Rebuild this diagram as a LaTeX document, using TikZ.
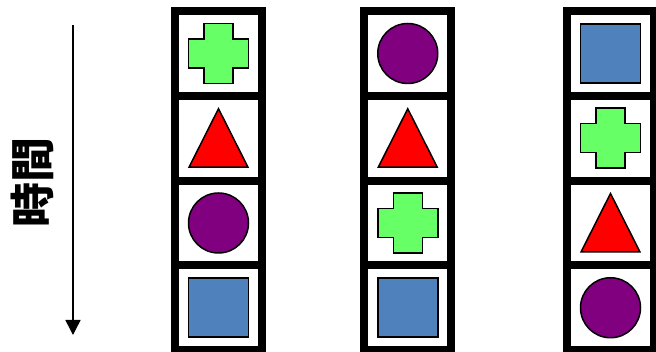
\documentclass[tikz,border=0pt]{standalone}
\usepackage{fontspec}
\newfontfamily\cjk{Noto Sans CJK JP}
\usetikzlibrary{arrows.meta}
\definecolor{crossgreen}{HTML}{66FF66}
\definecolor{trired}{HTML}{FF0000}
\definecolor{circpurple}{HTML}{800080}
\definecolor{sqblue}{HTML}{4F81BD}
\tikzset{
  cellbox/.style={draw=black, line width=8pt, fill=white, rectangle, inner sep=0pt,
    outer sep=0pt, minimum width=87pt, minimum height=84.75pt},
  shapeline/.style={draw=black, line width=1.5pt, line join=miter},
  crossshape/.pic={\path[shapeline, fill=crossgreen]
    (-14.5,30) -- (14.5,30) -- (14.5,14.5) -- (30,14.5) -- (30,-14.5) -- (14.5,-14.5)
    -- (14.5,-30) -- (-14.5,-30) -- (-14.5,-14.5) -- (-30,-14.5) -- (-30,14.5)
    -- (-14.5,14.5) -- cycle;},
  trishape/.pic={\path[shapeline, fill=trired]
    (0,-29.5) -- (29.5,29) -- (-29.5,29) -- cycle;},
  circshape/.pic={\path[shapeline, fill=circpurple] (0,0) circle (30);},
  sqshape/.pic={\path[shapeline, fill=sqblue] (-30,-29.5) rectangle (30,29.5);},
  timetext/.style={font=\cjk\bfseries\fontsize{45}{50}\selectfont, rotate=90, inner sep=0pt},
  timearrow/.style={line width=1.5pt, -{Triangle[width=15pt,length=15pt]}}
}
\begin{document}
\begin{tikzpicture}[x=1pt, y=-1pt]
\useasboundingbox (0,0) rectangle (656,352);
% column 1
\node[cellbox] (a1) at (218.5,53.5) {};
\node[cellbox] (a2) at (218.5,138.25) {};
\node[cellbox] (a3) at (218.5,223) {};
\node[cellbox] (a4) at (218.5,307.75) {};
% column 2
\node[cellbox] (b1) at (407.75,53.5) {};
\node[cellbox] (b2) at (407.75,138.25) {};
\node[cellbox] (b3) at (407.75,223) {};
\node[cellbox] (b4) at (407.75,307.75) {};
% column 3
\node[cellbox] (c1) at (610.5,53.5) {};
\node[cellbox] (c2) at (610.5,138.25) {};
\node[cellbox] (c3) at (610.5,223) {};
\node[cellbox] (c4) at (610.5,307.75) {};
% redraw borders on top so overlaps stay black
\foreach \n in {a1,a2,a3,a4,b1,b2,b3,b4,c1,c2,c3,c4}
  \draw[line width=8pt] (\n.south west) rectangle (\n.north east);
% shapes
\pic at (a1) {crossshape};
\pic at (a2) {trishape};
\pic at (a3) {circshape};
\pic at (a4) {sqshape};
\pic at (b1) {circshape};
\pic at (b2) {trishape};
\pic at (b3) {crossshape};
\pic at (b4) {sqshape};
\pic at (c1) {sqshape};
\pic at (c2) {crossshape};
\pic at (c3) {trishape};
\pic at (c4) {circshape};
% time arrow
\coordinate (tstart) at (73,25);
\coordinate (tend) at (73,335);
\draw[timearrow] (tstart) -- (tend);
\node[timetext] (tlabel) at (32.5,183) {時間};
\end{tikzpicture}
\end{document}
